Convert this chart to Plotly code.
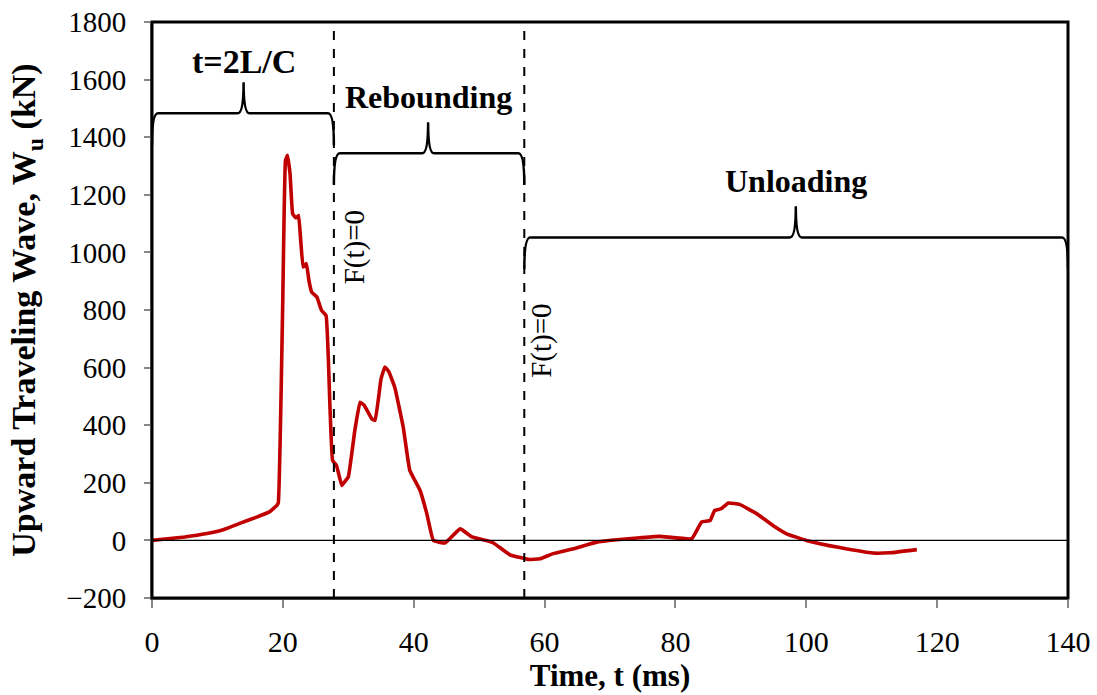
import plotly.graph_objects as go

# ---- data ----
t_ms = [0, 2, 5, 8.4, 11, 13.4, 16, 18, 19.05, 19.3, 19.97, 20.4, 20.7, 21.1, 21.5,
        22.0, 22.4, 22.7, 23.1, 23.6, 24.0, 24.4, 25.2, 25.9, 26.6, 27.2, 27.6, 28.2,
        29.0, 29.5, 30.0, 31.0, 31.8, 32.4, 33.6, 34.1, 35.0, 35.6, 36.2, 37.1, 38.4,
        39.4, 40.96, 42.0, 43.0, 44.8, 47.1, 48.9, 51.1, 52.2, 54.7, 57.5, 59.3, 61.3,
        64.4, 67.96, 71.0, 74.6, 77.6, 82.5, 84.0, 85.3, 86.0, 87.0, 88.1, 89.8, 92.4,
        94.9, 97.0, 100.0, 105.1, 110.2, 112.8, 116.9]
wu_kN = [0, 5, 12, 24, 38, 59, 81, 100, 121, 130, 810, 1319, 1337, 1273, 1134,
         1120, 1128, 1050, 949, 961, 900, 862, 845, 799, 781, 463, 278, 260,
         191, 205, 220, 382, 480, 470, 422, 417, 560, 602, 585, 532, 393,
         243, 174, 93, 0, -9, 40, 12, 0, -9, -50, -66, -64, -46,
         -29, -6, 2, 9, 14, 6, 64, 69, 104, 110, 130, 125, 93,
         52, 23, 0, -25, -44, -43, -32]

x_ticks = [0, 20, 40, 60, 80, 100, 120, 140]
y_ticks = [-200, 0, 200, 400, 600, 800, 1000, 1200, 1400, 1600, 1800]

ft0_times = [27.8, 56.9]
ft0_label_x = [31.0, 59.5]
ft0_label_y = [1017, 694]
phases = ["t=2L/C", "Rebounding", "Unloading"]
phase_start = [0, 27.8, 56.9]
phase_end = [27.8, 56.9, 140]
phase_level = [1483, 1344, 1052]
phase_tip = [14.0, 42.2, 98.4]
phase_label_size = [34, 32, 32]
phase_label_gap = [110, 125, 125]

FONT = "Liberation Serif"

fig = go.Figure()
fig.add_trace(go.Scatter(x=t_ms, y=wu_kN, mode="lines",
                         line=dict(color="#C00000", width=3.6, shape="spline", smoothing=0.3),
                         showlegend=False, hoverinfo="skip"))

# zero line
fig.add_shape(type="line", xref="paper", yref="y", x0=0, x1=1, y0=0, y1=0,
              line=dict(color="black", width=1.3))

# dashed lines F(t)=0
for tx in ft0_times:
    fig.add_shape(type="line", xref="x", yref="paper", x0=tx, x1=tx, y0=0, y1=1,
                  line=dict(color="black", width=2, dash="dash"))

# braces
def brace(x0, x1, xm, yh):
    d = 0.9
    ydrop = 110
    ytip = 108
    return (f"M {x0},{yh - ydrop} Q {x0},{yh} {x0 + d},{yh} "
            f"L {xm - d},{yh} Q {xm},{yh} {xm},{yh + ytip} "
            f"Q {xm},{yh} {xm + d},{yh} L {x1 - d},{yh} "
            f"Q {x1},{yh} {x1},{yh - ydrop}")

for name, a, b, lv, tp, fs, gap in zip(phases, phase_start, phase_end, phase_level,
                                       phase_tip, phase_label_size, phase_label_gap):
    fig.add_shape(type="path", xref="x", yref="y", path=brace(a, b, tp, lv),
                  line=dict(color="black", width=2.5))
    fig.add_annotation(x=tp, y=lv + gap, xref="x", yref="y", text=f"<b>{name}</b>",
                       showarrow=False, yanchor="bottom",
                       font=dict(family=FONT, size=fs, color="black"))

# F(t)=0 labels
for tx, yc in zip(ft0_label_x, ft0_label_y):
    fig.add_annotation(x=tx, y=yc, xref="x", yref="y", text="F(t)=0", textangle=-90,
                       showarrow=False, font=dict(family=FONT, size=29, color="black"))

# frame
fig.add_shape(type="rect", xref="paper", yref="paper", x0=0, x1=1, y0=0, y1=1,
              line=dict(color="black", width=3), layer="above")

fig.update_layout(
    width=1097, height=695,
    margin=dict(l=152, r=29, t=22, b=97),
    plot_bgcolor="white", paper_bgcolor="white",
    font=dict(family=FONT, size=30, color="black"),
    showlegend=False,
)
fig.update_xaxes(range=[0, 140], tickvals=x_ticks, ticks="outside", ticklen=8,
                 tickcolor="#888888", tickwidth=2, showgrid=False, zeroline=False,
                 showline=True, linecolor="#888888", linewidth=2, automargin=False,
                 ticklabeloverflow="allow", ticklabelstandoff=8,
                 tickfont=dict(family=FONT, size=30),
                 title=dict(text="<b>Time, t (ms)</b>", font=dict(family=FONT, size=31),
                            standoff=4))
fig.update_yaxes(range=[-200, 1800], tickvals=y_ticks, ticks="outside", ticklen=6,
                 tickcolor="#888888", tickwidth=2, showgrid=False, zeroline=False,
                 showline=True, linecolor="#888888", linewidth=2, automargin=False,
                 ticklabeloverflow="allow", ticklabelstandoff=12,
                 tickfont=dict(family=FONT, size=29),
                 title=dict(text="<b>Upward Traveling Wave, W<sub>u</sub> (kN)</b>",
                            font=dict(family=FONT, size=34), standoff=20))

fig.write_html("out.html", config={"displayModeBar": False},
               post_script="document.body.style.margin='0px';document.body.style.overflow='hidden';")
